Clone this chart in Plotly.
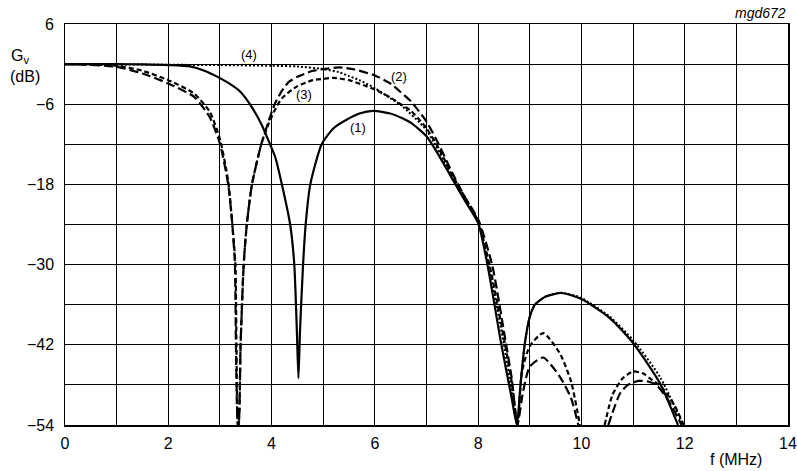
import plotly.graph_objects as go

# ---- data (frequency in MHz, gain in dB) ----
x1 = [0, 1, 1.5, 2, 2.42, 2.7, 3.0, 3.2, 3.39, 3.58, 3.81, 3.97, 4.07, 4.2, 4.36, 4.44, 4.49, 4.52,
      4.55, 4.61, 4.66, 4.75, 4.97, 5.2, 5.46, 5.7, 5.97, 6.3, 6.5, 6.7, 7.0, 7.25, 7.5, 7.75, 8.0, 8.18,
      8.45, 8.65, 8.75, 8.82, 8.9, 9.0, 9.1, 9.3, 9.61, 10.0, 10.55, 11.0, 11.52, 11.87]
y1 = [0, 0, -0.05, -0.15, -0.35, -1.0, -2.1, -3.0, -4.1, -6.0, -9.1, -12, -13.9, -18, -24, -30, -40, -47,
      -40, -30, -24, -18, -12, -9.6, -8.3, -7.4, -7.0, -7.4, -8.0, -8.8, -10.8, -13.8, -17.2, -20.5, -23.8, -30,
      -42, -50, -54, -48, -42, -37.8, -36, -34.8, -34.25, -35.15, -38, -41.75, -47.75, -54]

x2 = [0, 0.5, 1, 1.5, 2, 2.5, 2.8, 3.0, 3.16, 3.24, 3.29, 3.31, 3.35, 3.36, 3.40, 3.46, 3.52, 3.62, 3.80,
      3.94, 4.06, 4.2, 4.33, 4.5, 4.8, 5.0, 5.3, 5.6, 6.0, 6.3, 6.5, 6.7, 7.0, 7.25, 7.5, 7.75, 8.0, 8.27, 8.5,
      8.65, 8.76, 8.87, 9.0, 9.26, 9.58, 9.8, 9.94, None, 10.52, 10.75, 10.9, 11.1, 11.3, 11.45, 11.7, 11.94]
y2 = [0, -0.1, -0.4, -1.4, -2.9, -4.9, -7.9, -11.9, -18, -24, -30, -42, -54, -54, -42, -30, -24, -18, -12,
      -8.6, -6.0, -4.0, -2.7, -1.9, -1.0, -0.75, -0.5, -0.8, -1.7, -2.9, -4.2, -5.6, -8.6, -12.2, -16.3, -20.0,
      -23.2, -30, -40, -47, -54, -49, -45.25, -43.9, -46.75, -50, -54, None, -54, -49.25, -48, -47.4, -47.5,
      -48, -50.5, -54]

x3 = [0, 1, 1.5, 2, 2.5, 2.8, 3.0, 3.16, 3.24, 3.3, 3.32, 3.35, 3.36, 3.40, 3.46, 3.52, 3.62, 3.80, 3.95,
      4.08, 4.2, 4.5, 4.8, 5.0, 5.2, 5.5, 5.8, 6.0, 6.3, 6.5, 6.7, 7.0, 7.25, 7.5, 7.75, 8.0, 8.22, 8.5,
      8.66, 8.76, 8.85, 9.0, 9.26, 9.58, 9.8, 9.97, None, 10.45, 10.6, 10.8, 11.0, 11.2, 11.32, 11.55, 11.8,
      11.98]
y3 = [0, -0.25, -1.0, -2.4, -4.4, -7.1, -11.2, -17.5, -24, -30, -42, -54, -54, -42, -30, -24, -18, -12,
      -8.8, -6.6, -5.1, -3.3, -2.4, -2.2, -2.05, -2.4, -3.2, -3.8, -5.0, -6.0, -7.0, -9.6, -12.8, -16.6,
      -20.0, -23.5, -30, -41, -48, -54, -46, -42.2, -40.25, -43.25, -47.5, -54, None, -54, -49.5, -47, -46,
      -46.3, -47, -48.3, -51, -54]

x4 = [0, 1, 2, 3, 4, 4.5, 5.0, 5.3, 5.5, 5.7, 6.0, 6.3, 6.5, 7.0, 7.5, 8.0, 8.2, 8.5, 8.65, 8.76, 8.82,
      8.9, 9.0, 9.1, 9.3, 9.61, 10.0, 10.55, 11.0, 11.52, 11.97]
y4 = [0, -0.05, -0.1, -0.15, -0.25, -0.35, -0.75, -1.2, -1.8, -2.4, -3.6, -5.1, -6.1, -9.9, -16.8, -23.6,
      -30, -42, -49, -54, -48, -42, -37.8, -36, -34.8, -34.2, -35.0, -37.8, -41.3, -46.8, -54]

y_tickvals = list(range(-54, 7, 12))
y_ticktext = ["\u2212" + str(-v) if v < 0 else str(v) for v in y_tickvals]

curve_labels = ["(1)", "(2)", "(3)", "(4)"]
label_x = [5.68, 6.47, 4.63, 3.57]
label_y = [-9.5, -1.8, -4.6, 1.4]

FONT = "Liberation Sans, Arial, sans-serif"

fig = go.Figure()
styles = [
    (x1, y1, "solid", 2.2),
    (x2, y2, "9px,4px", 2.2),
    (x3, y3, "5px,3px", 2.2),
    (x4, y4, "2px,2px", 2.0),
]
for xs, ys, dash, w in styles:
    fig.add_trace(go.Scatter(x=xs, y=ys, mode="lines", connectgaps=False,
                             line=dict(color="black", width=w, dash=dash, shape="spline", smoothing=0.6),
                             showlegend=False, hoverinfo="skip"))

for t, lx, ly in zip(curve_labels, label_x, label_y):
    fig.add_annotation(x=lx, y=ly, xref="x", yref="y", text=t, showarrow=False,
                       font=dict(family=FONT, size=13, color="black"))

# y tick labels, right-aligned just left of the frame
for v, t in zip(y_tickvals, y_ticktext):
    fig.add_annotation(x=-0.0125, y=v, xref="paper", yref="y", text=t, showarrow=False,
                       xanchor="right", yanchor="middle",
                       font=dict(family=FONT, size=16, color="black"))

fig.add_annotation(x=-0.062, y=0.92, xref="paper", yref="paper", text="G<sub>v</sub>", showarrow=False,
                   font=dict(family=FONT, size=16, color="black"), xanchor="center", yanchor="middle")
fig.add_annotation(x=-0.055, y=0.87, xref="paper", yref="paper", text="(dB)", showarrow=False,
                   font=dict(family=FONT, size=16, color="black"), xanchor="center", yanchor="middle")
fig.add_annotation(x=1.0, y=1.027, xref="paper", yref="paper", text="<i>mgd672</i>", showarrow=False,
                   font=dict(family=FONT, size=14, color="black"), xanchor="right", yanchor="middle")
fig.add_annotation(x=0.928, y=-0.087, xref="paper", yref="paper", text="f (MHz)", showarrow=False,
                   font=dict(family=FONT, size=16, color="black"), xanchor="center", yanchor="middle")

fig.update_layout(
    width=797, height=471,
    margin=dict(l=65, r=9, t=24, b=46, autoexpand=False),
    paper_bgcolor="white", plot_bgcolor="white",
    font=dict(family=FONT, size=16, color="black"),
    xaxis=dict(range=[0, 14], tick0=0, dtick=2,
               showgrid=True, gridcolor="black", gridwidth=1, zeroline=False,
               minor=dict(tick0=0, dtick=1, showgrid=True, gridcolor="black", gridwidth=1, ticks=""),
               showline=True, linecolor="black", linewidth=1.5, mirror=True,
               ticks="outside", ticklen=3, tickcolor="rgba(0,0,0,0)",
               tickfont=dict(size=16, family=FONT, color="black")),
    yaxis=dict(range=[-54, 6], tick0=-54, dtick=6, showticklabels=False,
               showgrid=True, gridcolor="black", gridwidth=1, zeroline=False,
               showline=True, linecolor="black", linewidth=1.5, mirror=True, ticks=""),
)

# remove the default 8px page margin so the figure fills the 797x471 window exactly
fig.write_html("out.html", config={"displayModeBar": False, "staticPlot": True},
               post_script="document.body.style.margin='0';document.body.style.overflow='hidden';")
